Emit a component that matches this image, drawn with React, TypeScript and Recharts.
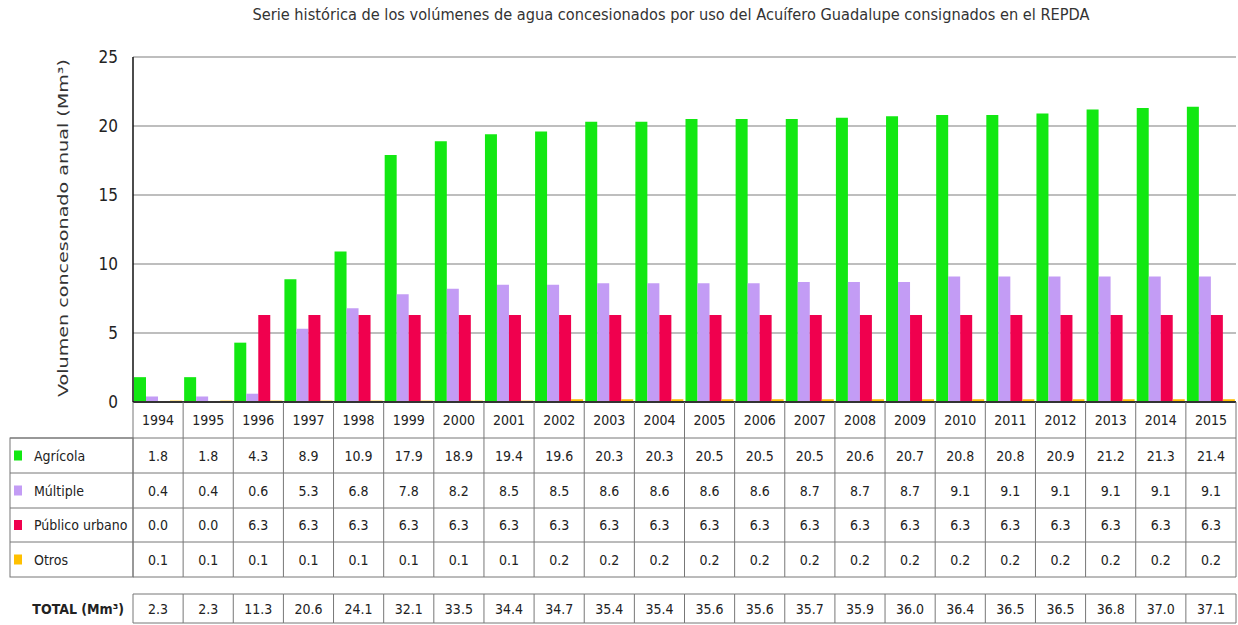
import { BarChart, Bar, XAxis, YAxis, CartesianGrid } from 'recharts';

const years = ['1994', '1995', '1996', '1997', '1998', '1999', '2000', '2001', '2002', '2003', '2004', '2005', '2006', '2007', '2008', '2009', '2010', '2011', '2012', '2013', '2014', '2015'];
const agricola = [1.8, 1.8, 4.3, 8.9, 10.9, 17.9, 18.9, 19.4, 19.6, 20.3, 20.3, 20.5, 20.5, 20.5, 20.6, 20.7, 20.8, 20.8, 20.9, 21.2, 21.3, 21.4];
const multiple = [0.4, 0.4, 0.6, 5.3, 6.8, 7.8, 8.2, 8.5, 8.5, 8.6, 8.6, 8.6, 8.6, 8.7, 8.7, 8.7, 9.1, 9.1, 9.1, 9.1, 9.1, 9.1];
const publico = [0.0, 0.0, 6.3, 6.3, 6.3, 6.3, 6.3, 6.3, 6.3, 6.3, 6.3, 6.3, 6.3, 6.3, 6.3, 6.3, 6.3, 6.3, 6.3, 6.3, 6.3, 6.3];
const otros = [0.1, 0.1, 0.1, 0.1, 0.1, 0.1, 0.1, 0.1, 0.2, 0.2, 0.2, 0.2, 0.2, 0.2, 0.2, 0.2, 0.2, 0.2, 0.2, 0.2, 0.2, 0.2];
const totals = [2.3, 2.3, 11.3, 20.6, 24.1, 32.1, 33.5, 34.4, 34.7, 35.4, 35.4, 35.6, 35.6, 35.7, 35.9, 36.0, 36.4, 36.5, 36.5, 36.8, 37.0, 37.1];
const yTicks = [0, 5, 10, 15, 20, 25];

const series = [
  { key: 'agricola', name: 'Agrícola', color: '#12e812', values: agricola },
  { key: 'multiple', name: 'Múltiple', color: '#c39cf5', values: multiple },
  { key: 'publico', name: 'Público urbano', color: '#f0004e', values: publico },
  { key: 'otros', name: 'Otros', color: '#ffc000', values: otros },
];

const data = years.map((year, i) => ({
  year,
  agricola: agricola[i],
  multiple: multiple[i],
  publico: publico[i],
  otros: otros[i],
}));

const FONT = "'Liberation Sans Narrow', 'DejaVu Sans Condensed', 'Roboto', sans-serif";
const W = 1238;
const H = 625;
const PLOT_LEFT = 133;
const PLOT_RIGHT = 2;
const COL = (W - PLOT_LEFT - PLOT_RIGHT) / years.length;
const ROWS = [402, 438, 473, 508, 542, 577];
const TOTAL_ROW = [594, 623];
const BORDER = '#777';

function TableColumn(props: any) {
  const { x, payload } = props;
  const i = years.indexOf(String(payload.value));
  const left = x - COL / 2;
  const right = x + COL / 2;
  const mid = (a: number, b: number) => (a + b) / 2 + 5;

  return (
    <g fontFamily={FONT} fill="#222">
      <line x1={right} x2={right} y1={ROWS[0]} y2={ROWS[5]} stroke={BORDER} />
      {i === 0 && <line x1={left} x2={left} y1={ROWS[0]} y2={ROWS[5]} stroke={BORDER} />}
      {ROWS.slice(1).map((ry) => (
        <line key={ry} x1={left} x2={right} y1={ry} y2={ry} stroke={BORDER} />
      ))}
      <text x={x} y={mid(ROWS[0], ROWS[1])} textAnchor="middle" fontSize={14}>{years[i]}</text>
      {series.map((s, r) => (
        <text key={s.key} x={x} y={mid(ROWS[r + 1], ROWS[r + 2])} textAnchor="middle" fontSize={14}>
          {s.values[i].toFixed(1)}
        </text>
      ))}

      <line x1={left} x2={right} y1={TOTAL_ROW[0]} y2={TOTAL_ROW[0]} stroke={BORDER} />
      <line x1={left} x2={right} y1={TOTAL_ROW[1]} y2={TOTAL_ROW[1]} stroke={BORDER} />
      <line x1={right} x2={right} y1={TOTAL_ROW[0]} y2={TOTAL_ROW[1]} stroke={BORDER} />
      {i === 0 && <line x1={left} x2={left} y1={TOTAL_ROW[0]} y2={TOTAL_ROW[1]} stroke={BORDER} />}
      <text x={x} y={mid(TOTAL_ROW[0], TOTAL_ROW[1])} textAnchor="middle" fontSize={14}>{totals[i].toFixed(1)}</text>

      {i === 0 && (
        <g>
          <rect x={10} y={ROWS[1]} width={left - 10} height={ROWS[5] - ROWS[1]} fill="none" stroke={BORDER} />
          {series.map((s, r) => (
            <g key={s.key}>
              <line x1={10} x2={left} y1={ROWS[r + 1]} y2={ROWS[r + 1]} stroke={BORDER} />
              <rect x={14} y={(ROWS[r + 1] + ROWS[r + 2]) / 2 - 5} width={8} height={10} fill={s.color} />
              <text x={34} y={mid(ROWS[r + 1], ROWS[r + 2])} fontSize={14}>{s.name}</text>
            </g>
          ))}
          <text x={left - 9} y={mid(TOTAL_ROW[0], TOTAL_ROW[1])} textAnchor="end" fontSize={14} fontWeight="bold">
            TOTAL (Mm³)
          </text>
        </g>
      )}
    </g>
  );
}

export default function App() {
  return (
    <div style={{ position: 'absolute', left: 0, top: 0, width: W, height: H, background: '#fff' }}>
      <BarChart
        width={W}
        height={H}
        data={data}
        margin={{ top: 57, right: PLOT_RIGHT, bottom: 0, left: 0 }}
        barSize={12}
        barGap={0}
      >
        <CartesianGrid horizontal vertical={false} stroke="#a8a8a8" strokeWidth={1.5} />
        <XAxis
          dataKey="year"
          height={H - ROWS[0]}
          interval={0}
          tickLine={false}
          tickSize={0}
          axisLine={{ stroke: '#333', strokeWidth: 2 }}
          tick={<TableColumn />}
        />
        <YAxis
          width={PLOT_LEFT}
          domain={[0, 25]}
          ticks={yTicks}
          tickLine={false}
          tickSize={0}
          tickMargin={15}
          axisLine={{ stroke: '#111', strokeWidth: 1.5 }}
          tick={{ fontFamily: FONT, fontSize: 17, fill: '#222' }}
        />
        {series.map((s) => (
          <Bar key={s.key} dataKey={s.key} name={s.name} fill={s.color} isAnimationActive={false} />
        ))}
      </BarChart>
      <svg width={W} height={H} style={{ position: 'absolute', left: 0, top: 0, pointerEvents: 'none' }}>
        <text x={671} y={20} textAnchor="middle" fontFamily={FONT} fontSize={15} fill="#333" textLength={837} lengthAdjust="spacingAndGlyphs">
          Serie histórica de los volúmenes de agua concesionados por uso del  Acuífero Guadalupe consignados en el REPDA
        </text>
        <text
          transform="translate(68, 228) rotate(-90)"
          textAnchor="middle"
          fontFamily="'DejaVu Sans', sans-serif"
          fontSize={14}
          fill="#333"
          textLength={338}
          lengthAdjust="spacingAndGlyphs"
        >
          Volumen concesonado anual (Mm³)
        </text>
      </svg>
    </div>
  );
}
